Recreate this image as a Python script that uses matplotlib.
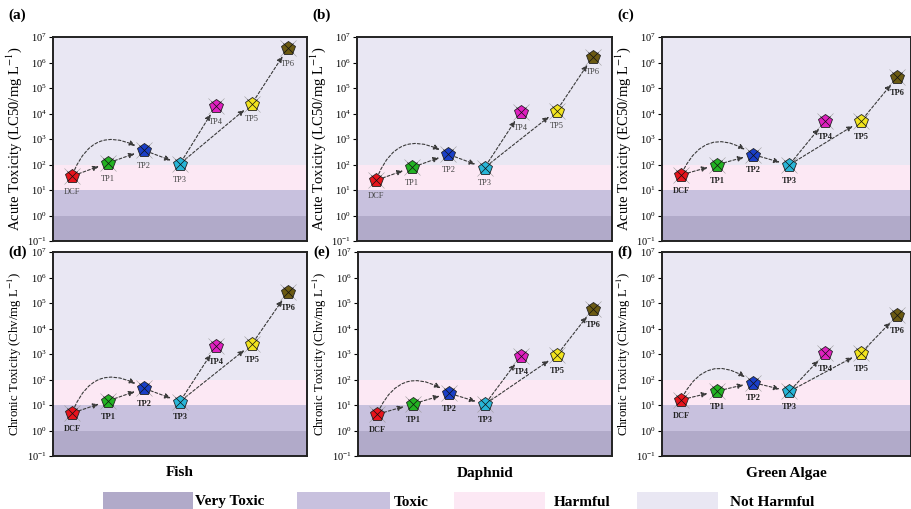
import matplotlib

matplotlib.use('Agg')
import matplotlib.pyplot as plt
import numpy as np
from matplotlib.patches import Rectangle
from matplotlib.ticker import LogLocator, NullLocator

plt.rcParams['font.family'] = ['Liberation Serif', 'DejaVu Serif']
plt.rcParams['mathtext.fontset'] = 'stix'

# 数据: 各化合物毒性值 (mg/L)
compounds = ['DCF', 'TP1', 'TP2', 'TP3', 'TP4', 'TP5', 'TP6']
fish_acute = [35, 115, 360, 107, 20000, 24500, 3.7e6]
daphnid_acute = [24, 77, 250, 75, 11000, 13000, 1.7e6]
algae_acute = [39, 98, 245, 96, 5100, 5200, 2.7e5]
fish_chronic = [4.8, 14.5, 45, 13.7, 2000, 2450, 2.7e5]
daphnid_chronic = [4.3, 11, 29, 10.7, 830, 910, 5.9e4]
algae_chronic = [16, 35, 76, 34, 1070, 1120, 3.3e4]

# 转化路径 (起点, 终点, 弧度)
paths = [(0, 1, 0), (1, 2, 0), (0, 2, -0.6), (2, 3, 0), (3, 4, 0), (3, 5, 0), (5, 6, 0)]

band_edges = [0.1, 1, 10, 100, 1e7]
band_names = ['Very Toxic', 'Toxic', 'Harmful', 'Not Harmful']
band_colors = ['#b1aac9', '#c8c1de', '#fce8f4', '#e9e7f3']
marker_colors = ['#e8141c', '#22b322', '#1a3fc8', '#28b6d8', '#e020c0', '#f2e41e', '#6b5a12']
species = ['Fish', 'Daphnid', 'Green Algae']

W, H = 911, 509
fig = plt.figure(figsize=(W / 100, H / 100), dpi=100)


def px_axes(l, t, r, b):
    return fig.add_axes([l / W, 1 - b / H, (r - l) / W, (b - t) / H])


panels = [
    # (数据, y标签, 左, 上, 右, 下, 字母, 粗体标签, 右边界)
    (fish_acute, 'Acute Toxicity (LC50/mg L$^{-1}$)', 53, 37, 307, 241, '(a)', False, 6.53),
    (daphnid_acute, 'Acute Toxicity (LC50/mg L$^{-1}$)', 357, 37, 612, 241, '(b)', False, 6.53),
    (algae_acute, 'Acute Toxicity (EC50/mg L$^{-1}$)', 662, 37, 911, 241, '(c)', True, 6.38),
    (fish_chronic, 'Chronic Toxicity (Chv/mg L$^{-1}$)', 53, 252, 307, 456, '(d)', True, 6.53),
    (daphnid_chronic, 'Chronic Toxicity (Chv/mg L$^{-1}$)', 358, 252, 612, 456, '(e)', True, 6.53),
    (algae_chronic, 'Chronic Toxicity (Chv/mg L$^{-1}$)', 662, 252, 911, 456, '(f)', True, 6.38),
]

for i, (vals, ylab, l, t, r, b, letter, bold, xr) in enumerate(panels):
    ax = px_axes(l, t, r, b)
    ax.set_yscale('log')
    ax.set_ylim(0.1, 1e7)
    ax.set_xlim(-0.53, xr)
    for k in range(4):
        ax.axhspan(band_edges[k], band_edges[k + 1], color=band_colors[k], lw=0, zorder=0)
    x = np.arange(len(compounds))
    for a, c, rad in paths:
        ax.annotate('', xy=(x[c], vals[c]), xytext=(x[a], vals[a]),
                    arrowprops=dict(arrowstyle='-|>,head_length=0.35,head_width=0.15',
                                    ls=(0, (2.5, 1.8)), lw=0.8, color='#3a3a3a',
                                    shrinkA=5, shrinkB=7,
                                    connectionstyle=f'arc3,rad={rad}'),
                    zorder=2)
    for j in range(len(compounds)):
        ax.plot(x[j], vals[j], marker='x', ms=12, mew=0.4, color='#9a9a9a', zorder=3)
        ax.plot(x[j], vals[j], marker='p', ms=10, mfc=marker_colors[j], mec='#222222',
                mew=0.6, ls='none', zorder=4)
        ax.plot(x[j], vals[j], marker='x', ms=6.5, mew=0.5, color='#111111', zorder=5)
        ax.annotate(compounds[j], (x[j], vals[j]), xytext=(0, -8.5), textcoords='offset points',
                    ha='center', va='top', fontsize=6,
                    fontweight='bold' if bold else 'normal',
                    color='#222222' if bold else '#444444', zorder=6)
    ax.set_xticks([])
    ax.yaxis.set_major_locator(LogLocator(base=10, numticks=12))
    ax.yaxis.set_minor_locator(NullLocator())
    ax.tick_params(axis='y', labelsize=7.5, length=3, width=0.8, pad=1.5)
    for s in ax.spines.values():
        s.set_linewidth(1.4)
        s.set_color('#222222')
    ax.set_ylabel(ylab, fontsize=10.5 if i < 3 else 9.2, labelpad=2)
    fig.text((l - 45) / W, 1 - (t - 22 if i < 3 else t) / H, letter,
             fontsize=11, fontweight='bold', ha='left', va='center')
    if i >= 3:
        fig.text((l + r) / 2 / W, 1 - 473 / H, species[i - 3],
                 fontsize=11, fontweight='bold', ha='center', va='center')

# 底部图例
patch_x = [(103, 193), (297, 390), (454, 545), (637, 718)]
text_x = [195, 394, 554, 730]
for k in range(4):
    x0, x1 = patch_x[k]
    fig.add_artist(Rectangle((x0 / W, 0), (x1 - x0) / W, (H - 492) / H,
                             transform=fig.transFigure, color=band_colors[k], lw=0))
    fig.text(text_x[k] / W, 1 - 502 / H, band_names[k], fontsize=11,
             fontweight='bold', ha='left', va='center')

fig.savefig('out.png', dpi=100)
